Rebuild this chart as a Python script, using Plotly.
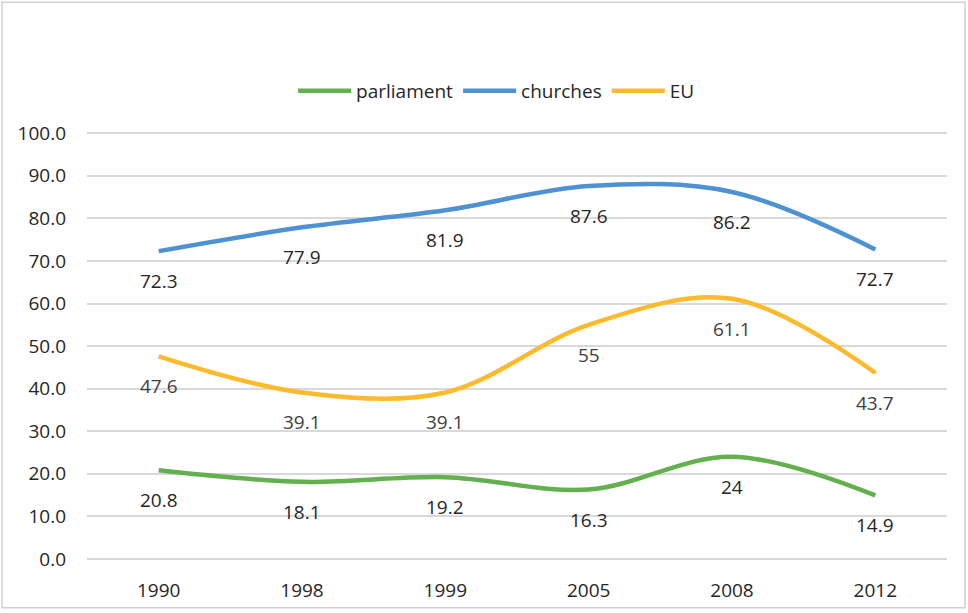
import plotly.graph_objects as go

years = ["1990", "1998", "1999", "2005", "2008", "2012"]
parliament = [20.8, 18.1, 19.2, 16.3, 24, 14.9]
churches = [72.3, 77.9, 81.9, 87.6, 86.2, 72.7]
eu = [47.6, 39.1, 39.1, 55, 61.1, 43.7]
y_ticks = [0, 10, 20, 30, 40, 50, 60, 70, 80, 90, 100]

series = [
    ("parliament", parliament, "#62B04E", "#262626"),
    ("churches", churches, "#4F92D3", "#262626"),
    ("EU", eu, "#FDBA2D", "#404040"),
]

FONT = "Open Sans, Liberation Sans, sans-serif"
FS = 19

fig = go.Figure()
annotations = []
for name, vals, color, lblcolor in series:
    fig.add_trace(go.Scatter(
        x=years, y=vals, name=name, mode="lines",
        line=dict(color=color, width=4.5, shape="spline", smoothing=1.0),
        hoverinfo="x+y+name",
    ))
    for i, yv in enumerate(vals):
        annotations.append(dict(
            x=i, y=yv, xref="x", yref="y", text=f"{yv:g}",
            showarrow=False, yshift=-30, yanchor="middle",
            font=dict(family=FONT, size=FS, color=lblcolor),
        ))

W, H = 968, 613
y_lo, y_hi = -0.5, 101.0
ppu = (559 - 133) / 100.0
T = 133 - (y_hi - 100) * ppu
B = H - (559 - y_lo * ppu)
L, R = 87, 21
pw, ph = W - L - R, H - T - B

def py(pix):
    return ((H - B) - pix) / ph

fig.update_layout(
    width=W, height=H,
    margin=dict(l=L, r=R, t=T, b=B, autoexpand=False),
    paper_bgcolor="white", plot_bgcolor="white",
    font=dict(family=FONT, size=FS, color="#262626"),
    showlegend=True,
    legend=dict(
        orientation="h", xref="container", yref="container",
        x=0.513, xanchor="center", y=1 - 91 / H, yanchor="middle",
        font=dict(family=FONT, size=FS, color="#262626"),
        itemwidth=53, tracegroupgap=0,
    ),
    annotations=annotations,
    shapes=[dict(
        type="rect", xref="paper", yref="paper",
        x0=(2 - L) / pw, x1=(965 - L) / pw,
        y0=py(608), y1=py(2),
        line=dict(color="#D0D0D0", width=1.5), fillcolor="rgba(0,0,0,0)",
        layer="below",
    )],
    xaxis=dict(
        type="category", range=[-0.5, 5.5],
        showgrid=False, zeroline=False, showline=False,
        ticks="", ticklabelstandoff=16,
        tickfont=dict(family=FONT, size=FS, color="#262626"),
    ),
    yaxis=dict(
        range=[y_lo, y_hi], tickvals=y_ticks, tickformat=".1f",
        showgrid=True, gridcolor="#D9D9D9", gridwidth=1.5,
        zeroline=False, showline=False, ticks="", ticklabelstandoff=20,
        tickfont=dict(family=FONT, size=FS, color="#262626"),
    ),
)

fig.write_html(
    "out.html",
    config={"displayModeBar": False},
    post_script="document.body.style.margin='0px';document.body.style.overflow='hidden';",
)
